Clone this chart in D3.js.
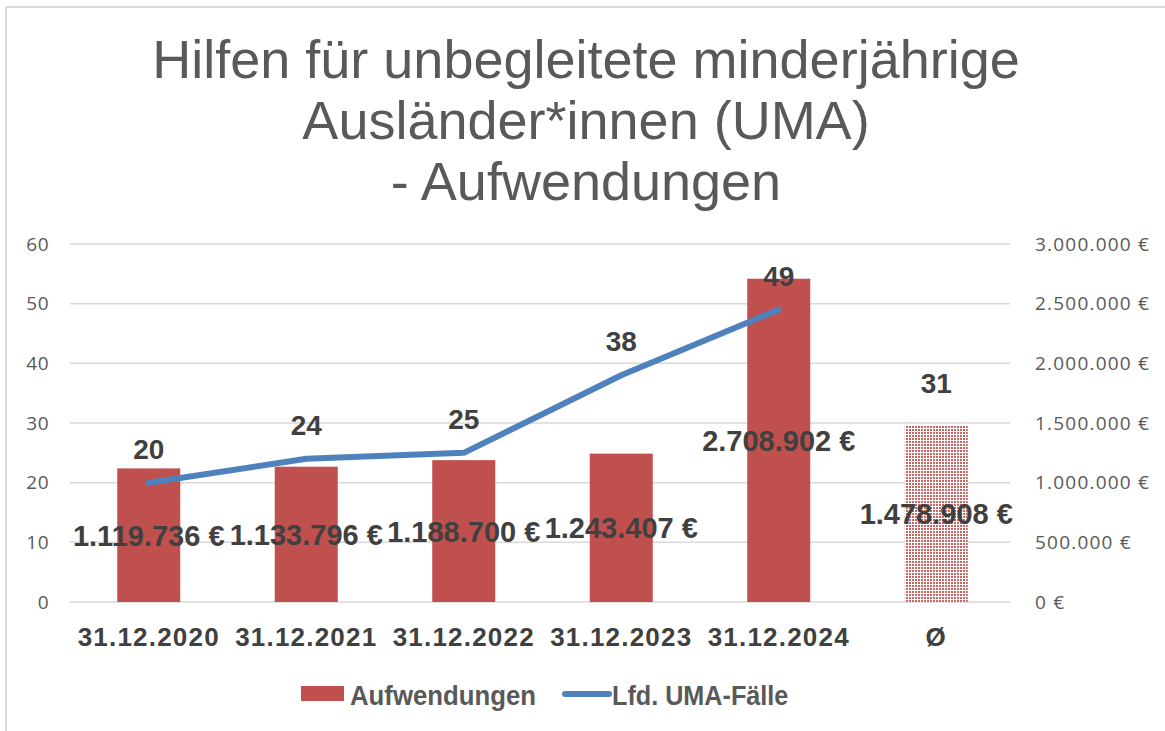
<!DOCTYPE html>
<html>
<head>
<meta charset="utf-8">
<script src="https://cdn.jsdelivr.net/npm/d3@7"></script>
<style>
  body { margin: 0; background: #fff; }
  text { font-family: "Liberation Sans", Arial, sans-serif; }
</style>
</head>
<body>
<svg id="chart" width="1165" height="731"></svg>
<script>
var categories = ["31.12.2020", "31.12.2021", "31.12.2022", "31.12.2023", "31.12.2024", "Ø"];
var costs = [1119736, 1133796, 1188700, 1243407, 2708902, 1478908];
var cases = [20, 24, 25, 38, 49, 31];
var leftTicks = [0, 10, 20, 30, 40, 50, 60];
var rightTicks = [0, 500000, 1000000, 1500000, 2000000, 2500000, 3000000];
var titleLines = ["Hilfen für unbegleitete minderjährige", "Ausländer*innen (UMA)", "- Aufwendungen"];

var dims = {left: 70, right: 1015, top: 244, bottom: 602};

var svg = d3.select("#chart");

var euroFormat = function(v) {
    return d3.format(",.0f")(v).replace(/,/g, ".") + " €";
};

var xScale = d3.scaleBand()
    .domain(categories)
    .range([dims.left, dims.right])
    .padding(0);

var yLeft = d3.scaleLinear()
    .domain([0, 60])
    .range([dims.bottom, dims.top]);

var yRight = d3.scaleLinear()
    .domain([0, 3000000])
    .range([dims.bottom, dims.top]);

// pattern for the average bar
var defs = svg.append("defs");
var pat = defs.append("pattern")
    .attr("id", "dots")
    .attr("width", 3)
    .attr("height", 3)
    .attr("patternUnits", "userSpaceOnUse");
pat.append("rect").attr("width", 3).attr("height", 3).attr("fill", "#ffffff");
pat.append("rect").attr("width", 2).attr("height", 2).attr("fill", "#cc6462");

// outer border (top and left only visible)
svg.append("line").attr("x1", 6).attr("x2", 1165).attr("y1", 7).attr("y2", 7)
    .attr("stroke", "#d9d9d9").attr("stroke-width", 2);
svg.append("line").attr("x1", 6).attr("x2", 6).attr("y1", 7).attr("y2", 731)
    .attr("stroke", "#d9d9d9").attr("stroke-width", 2);

// title
svg.append("text")
    .attr("x", 586)
    .attr("y", 78)
    .attr("text-anchor", "middle")
    .attr("fill", "#595959")
    .style("font-size", "54px")
    .selectAll("tspan")
    .data(titleLines)
    .enter()
    .append("tspan")
    .attr("x", 586)
    .attr("dy", function(d, i) { return i === 0 ? 0 : 61; })
    .text(function(d) { return d; });

// gridlines
svg.append("g")
    .selectAll("line")
    .data(leftTicks)
    .enter()
    .append("line")
    .attr("x1", dims.left)
    .attr("x2", 1010)
    .attr("y1", function(d) { return yLeft(d); })
    .attr("y2", function(d) { return yLeft(d); })
    .attr("stroke", "#d9d9d9")
    .attr("stroke-width", 1.5);

// left axis
var leftAxis = svg.append("g")
    .attr("transform", "translate(" + dims.left + ",0)")
    .call(d3.axisLeft(yLeft).tickValues(leftTicks).tickSize(0).tickPadding(21));
leftAxis.select(".domain").remove();
leftAxis.selectAll("text")
    .attr("fill", "#595959")
    .style("font-size", "19px")
    .style("letter-spacing", "0.5px")
    .style("font-family", "'Open Sans', sans-serif");

// right axis
var rightAxis = svg.append("g")
    .attr("transform", "translate(1015,0)")
    .call(d3.axisRight(yRight).tickValues(rightTicks).tickSize(0).tickPadding(20).tickFormat(euroFormat));
rightAxis.select(".domain").remove();
rightAxis.selectAll("text")
    .attr("fill", "#595959")
    .style("font-size", "19px")
    .style("letter-spacing", "1.2px")
    .style("font-family", "'Open Sans', sans-serif");

// bars
var barWidth = xScale.bandwidth() * 0.4;
svg.selectAll(".bar")
    .data(categories)
    .enter()
    .append("rect")
    .attr("class", "bar")
    .attr("x", function(d) { return xScale(d) + (xScale.bandwidth() - barWidth) / 2; })
    .attr("y", function(d, i) { return yRight(costs[i]); })
    .attr("width", barWidth)
    .attr("height", function(d, i) { return dims.bottom - yRight(costs[i]); })
    .attr("fill", function(d) { return d === "Ø" ? "url(#dots)" : "#c0504d"; });

// line (years only)
var lineData = categories.slice(0, 5).map(function(c, i) { return {c: c, v: cases[i]}; });
var line = d3.line()
    .x(function(d) { return xScale(d.c) + xScale.bandwidth() / 2; })
    .y(function(d) { return yLeft(d.v); });
svg.append("path")
    .datum(lineData)
    .attr("d", line)
    .attr("fill", "none")
    .attr("stroke", "#4f81bd")
    .attr("stroke-width", 6)
    .attr("stroke-linecap", "round")
    .attr("stroke-linejoin", "round");

// case labels
svg.selectAll(".caseLabel")
    .data(categories)
    .enter()
    .append("text")
    .attr("class", "caseLabel")
    .attr("x", function(d) { return xScale(d) + xScale.bandwidth() / 2; })
    .attr("y", function(d, i) { return yLeft(cases[i]) - 24; })
    .attr("text-anchor", "middle")
    .attr("fill", "#404040")
    .style("font-size", "28px")
    .style("font-weight", "bold")
    .text(function(d, i) { return cases[i]; });

// cost labels
svg.selectAll(".costLabel")
    .data(categories)
    .enter()
    .append("text")
    .attr("class", "costLabel")
    .attr("x", function(d) { return xScale(d) + xScale.bandwidth() / 2; })
    .attr("y", function(d, i) { return yRight(costs[i] / 2); })
    .attr("dy", "0.36em")
    .attr("text-anchor", "middle")
    .attr("fill", "#404040")
    .style("font-size", "29px")
    .style("font-weight", "bold")
    .text(function(d, i) { return euroFormat(costs[i]); });

// x axis labels
var xAxis = svg.append("g")
    .attr("transform", "translate(0," + dims.bottom + ")")
    .call(d3.axisBottom(xScale).tickSize(0).tickPadding(26));
xAxis.select(".domain").remove();
xAxis.selectAll("text")
    .attr("fill", "#404040")
    .style("font-size", "26px")
    .style("letter-spacing", "1.2px")
    .style("font-weight", "bold");

// legend
var legend = svg.append("g");
legend.append("rect")
    .attr("x", 301).attr("y", 686).attr("width", 43).attr("height", 15)
    .attr("fill", "#c0504d");
legend.append("text")
    .attr("transform", "translate(350,705) scale(0.92,1)")
    .attr("fill", "#595959")
    .style("font-size", "28px")
    .style("font-weight", "bold")
    .text("Aufwendungen");
legend.append("line")
    .attr("x1", 565).attr("x2", 609).attr("y1", 694).attr("y2", 694)
    .attr("stroke", "#4f81bd").attr("stroke-width", 6).attr("stroke-linecap", "round");
legend.append("text")
    .attr("transform", "translate(612,705) scale(0.9,1)")
    .attr("fill", "#595959")
    .style("font-size", "28px")
    .style("font-weight", "bold")
    .text("Lfd. UMA-Fälle");
</script>
</body>
</html>
